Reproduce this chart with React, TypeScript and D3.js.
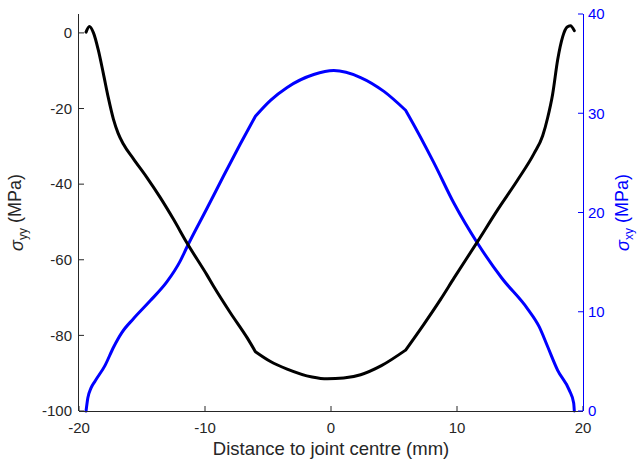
import React from "react";
import * as d3 from "d3";

// Normal stress sigma_yy (left axis) along the joint
const SYY_X = [-19.44, -19.18, -18.85, -18.47, -18.07, -17.67, -17.27, -16.9, -16.48, -15.68, -14.62, -13.56, -12.5, -11.44, -9.85, -9.32, -7.99, -6.66, -6.0, -4.8, -3.48, -1.5, -0.3, 1.0, 2.35, 4.0, 5.92, 7.38, 8.71, 9.77, 11.63, 13.22, 14.81, 16.13, 16.8, 17.19, 17.59, 17.99, 18.39, 18.73, 19.0, 19.31];
const SYY_Y = [0.2, 1.7, 0.0, -4.5, -10.7, -17.2, -22.8, -26.5, -29.4, -33.3, -38.2, -43.5, -49.3, -55.5, -64.0, -67.0, -74.0, -80.6, -84.3, -86.9, -88.9, -91.0, -91.5, -91.3, -90.4, -88.0, -83.9, -77.0, -70.4, -64.8, -55.2, -46.8, -38.9, -31.8, -27.2, -22.5, -16.2, -7.1, -1.0, 1.5, 1.9, 0.6];

// Shear stress sigma_xy (right axis) along the joint
const SXY_X = [-19.44, -19.3, -19.05, -18.73, -17.93, -17.27, -16.6, -15.68, -14.35, -13.03, -11.97, -11.44, -9.85, -8.52, -7.2, -6.0, -4.8, -3.48, -1.37, 0.22, 2.35, 4.2, 5.92, 6.19, 8.17, 9.77, 11.63, 13.55, 15.6, 16.52, 17.19, 17.99, 18.91, 19.26, 19.31];
const SXY_Y = [0.0, 1.3, 2.3, 3.0, 4.6, 6.4, 7.9, 9.3, 11.1, 13.0, 15.1, 16.5, 20.4, 23.7, 26.9, 29.7, 31.3, 32.6, 33.9, 34.3, 33.6, 32.2, 30.3, 29.7, 25.0, 20.9, 16.9, 13.4, 10.3, 8.5, 6.5, 4.1, 2.1, 0.8, 0.0];

// Positions (mm) where the stress profiles change slope abruptly
const KINKS = [-6.0, 5.92];

const X_TICKS = [-20, -10, 0, 10, 20];
const LEFT_TICKS = [-100, -80, -60, -40, -20, 0];
const RIGHT_TICKS = [0, 10, 20, 30, 40];

const W = 638;
const H = 461;
const FONT = "'Liberation Sans', Arial, Helvetica, sans-serif";
const AXIS_GREY = "#262626";
const BLUE = "#0000ff";

type Pt = [number, number];

// Split a profile at the kink positions so each piece is smoothed on its own
function splitAtKinks(pts: Pt[]): Pt[][] {
  const out: Pt[][] = [];
  let cur: Pt[] = [];
  pts.forEach((p) => {
    cur.push(p);
    if (KINKS.some((k) => Math.abs(k - p[0]) < 1e-9)) {
      out.push(cur);
      cur = [p];
    }
  });
  if (cur.length > 1) out.push(cur);
  return out;
}

export default function App() {
  const x = d3.scaleLinear().domain([-20, 20]).range([79, 583]);
  const yL = d3.scaleLinear().domain([-100, 5]).range([411, 14]);
  const yR = d3.scaleLinear().domain([0, 40]).range([411, 14]);

  const syy = SYY_X.map((v, i) => [v, SYY_Y[i]] as Pt);
  const sxy = SXY_X.map((v, i) => [v, SXY_Y[i]] as Pt);

  const lineL = d3
    .line<Pt>()
    .x((d) => x(d[0]))
    .y((d) => yL(d[1]))
    .curve(d3.curveMonotoneX);
  const lineR = d3
    .line<Pt>()
    .x((d) => x(d[0]))
    .y((d) => yR(d[1]))
    .curve(d3.curveMonotoneX);

  const pathL = splitAtKinks(syy).map((s) => lineL(s) ?? "").join("");
  const pathR = splitAtKinks(sxy).map((s) => lineR(s) ?? "").join("");

  const [x0, x1] = x.range();
  const [yb, yt] = yL.range();
  const tickLen = 5;
  const midY = (yb + yt) / 2;

  return (
    <svg
      width={W}
      height={H}
      style={{ position: "absolute", left: 0, top: 0, display: "block", background: "#fff" }}
      fontFamily={FONT}
    >
      <rect width={W} height={H} fill="#fff" />

      {/* data curves */}
      <path d={pathR} fill="none" stroke={BLUE} strokeWidth={3} strokeLinejoin="round" strokeLinecap="round" />
      <path d={pathL} fill="none" stroke="#000" strokeWidth={3} strokeLinejoin="round" strokeLinecap="round" />

      {/* bottom axis */}
      <line x1={x0} x2={x1} y1={yb + 0.5} y2={yb + 0.5} stroke={AXIS_GREY} strokeWidth={1} />
      {X_TICKS.map((t) => (
        <g key={"x" + t}>
          <line x1={x(t)} x2={x(t)} y1={yb} y2={yb - tickLen} stroke={AXIS_GREY} strokeWidth={1} />
          <text x={x(t)} y={433} textAnchor="middle" fontSize={15} fill={AXIS_GREY}>
            {t}
          </text>
        </g>
      ))}
      <text x={(x0 + x1) / 2} y={455} textAnchor="middle" fontSize={18.5} fill={AXIS_GREY}>
        Distance to joint centre (mm)
      </text>

      {/* left axis */}
      <line x1={x0 - 0.5} x2={x0 - 0.5} y1={yb} y2={yt} stroke={AXIS_GREY} strokeWidth={1} />
      {LEFT_TICKS.map((t) => (
        <g key={"l" + t}>
          <line x1={x0} x2={x0 + tickLen} y1={yL(t)} y2={yL(t)} stroke={AXIS_GREY} strokeWidth={1} />
          <text x={72} y={yL(t)} dy="0.35em" textAnchor="end" fontSize={15} fill={AXIS_GREY}>
            {t}
          </text>
        </g>
      ))}
      <text transform={`translate(21, ${midY}) rotate(-90)`} textAnchor="middle" fontSize={18} fill={AXIS_GREY}>
        <tspan fontStyle="italic" dy="2">σ</tspan>
        <tspan fontSize={12} dy="4">yy</tspan>
        <tspan dy="-6"> (MPa)</tspan>
      </text>

      {/* right axis */}
      <line x1={x1 + 0.5} x2={x1 + 0.5} y1={yb} y2={yt} stroke={BLUE} strokeWidth={1} />
      {RIGHT_TICKS.map((t) => (
        <g key={"r" + t}>
          <line x1={x1} x2={x1 - tickLen} y1={yR(t)} y2={yR(t)} stroke={BLUE} strokeWidth={1} />
          <text x={588} y={yR(t)} dy="0.35em" textAnchor="start" fontSize={15} fill={BLUE}>
            {t}
          </text>
        </g>
      ))}
      <text transform={`translate(628, ${midY}) rotate(-90)`} textAnchor="middle" fontSize={18} fill={BLUE}>
        <tspan fontStyle="italic" dy="1">σ</tspan>
        <tspan fontSize={12} dy="3.5">xy</tspan>
        <tspan dy="-4.5"> (MPa)</tspan>
      </text>
    </svg>
  );
}
